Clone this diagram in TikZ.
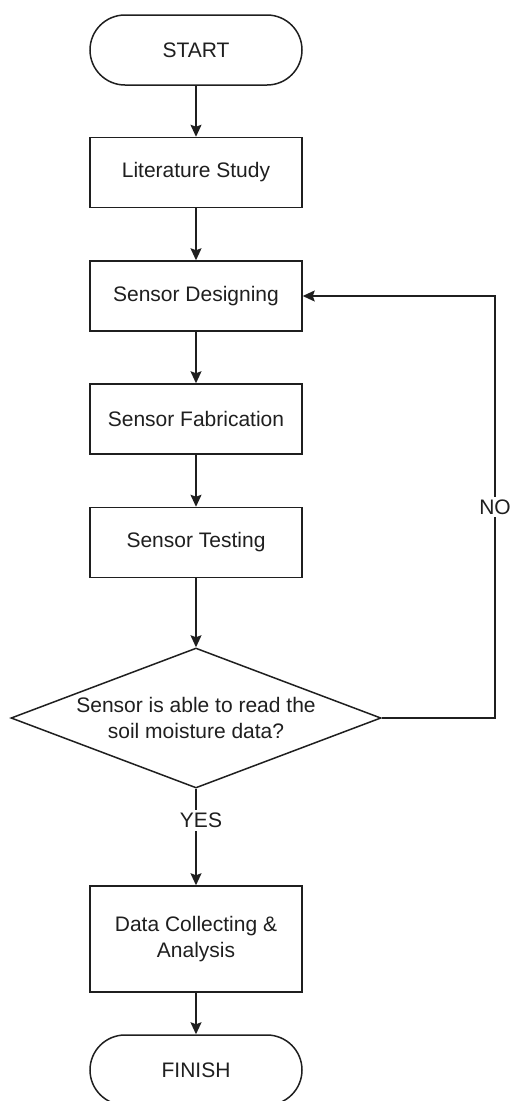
\documentclass[tikz,border=0pt]{standalone}
\usepackage{fontspec}
\setmainfont{Liberation Sans}
\usetikzlibrary{shapes.geometric,arrows.meta}
\begin{document}
\begin{tikzpicture}[x=1pt,y=-1pt,
  every node/.style={font=\fontsize{21}{25.5}\selectfont, text=black!88},
  flowline/.style={draw=black!88, line width=1.5pt},
  arrowline/.style={flowline, -{Stealth[length=12pt,width=11pt,inset=2pt]}},
  procbox/.style={draw=black!88, line width=1.5pt, rectangle,
    minimum width=212pt, minimum height=70pt, inner sep=0pt, align=center},
  termbox/.style={procbox, rounded corners=35pt},
  decbox/.style={draw=black!88, line width=1.5pt, diamond,
    minimum width=370pt, minimum height=140pt, inner sep=0pt},
  edgelabel/.style={fill=white, inner sep=3pt}
]
\useasboundingbox (0,0) rectangle (511,1101);
\fill[white] (0,0) rectangle (511,1101);

% process chain
\node[termbox] (start)  at (196,50)    {START};
\node[procbox] (lit)    at (196,172.5) {Literature Study};
\node[procbox] (des)    at (196,296)   {Sensor Designing};
\node[procbox] (fab)    at (196,419)   {Sensor Fabrication};
\node[procbox] (test)   at (196,542.5) {Sensor Testing};
\node[decbox]  (dec)    at (196,718)   {};
\node[align=center] (dectext) at (dec) {Sensor is able to read the\\soil moisture data?};
\node[procbox, minimum height=106pt] (data) at (196,939) {Data Collecting \&\\Analysis};
\node[termbox] (finish) at (196,1070)  {FINISH};

% loop-back corner
\coordinate (loop) at (495,296);

% connectors
\draw[arrowline] (start) -- (lit);
\draw[arrowline] (lit) -- (des);
\draw[arrowline] (des) -- (fab);
\draw[arrowline] (fab) -- (test);
\draw[arrowline] (test.south) -- (dec.north);
\draw[arrowline] (dec.south) -- node[edgelabel, pos=0.33, xshift=5pt] {YES} (data.north);
\draw[arrowline] (data) -- (finish);
\draw[arrowline] (dec.east) -| node[edgelabel, pos=0.75] {NO} (loop) -- (des.east);
\end{tikzpicture}
\end{document}
